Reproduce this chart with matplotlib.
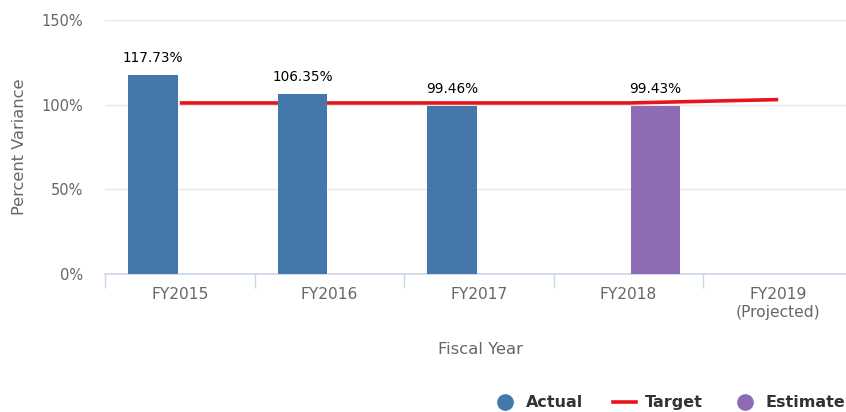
import numpy as np
import matplotlib
matplotlib.use("Agg")
import matplotlib.pyplot as plt
from matplotlib.lines import Line2D

# fiscal years and values (percent)
years = ["FY2015", "FY2016", "FY2017", "FY2018", "FY2019\n(Projected)"]
actual = [117.73, 106.35, 99.46, np.nan, np.nan]
estimate = [np.nan, np.nan, np.nan, 99.43, np.nan]
target = [101, 101, 101, 101, 103]

c_actual = "#4477aa"
c_est = "#8d6cb4"
c_target = "#e8141c"
c_axis = "#ccd6eb"

fig = plt.figure(figsize=(8.46, 4.12), dpi=100)
ax = fig.add_axes([105 / 846, 1 - 274 / 412, 748 / 846, 254 / 412])

x = np.arange(len(years))
w = 0.333
off = 0.18

# target line sits behind the columns
ax.plot(x, target, color=c_target, lw=2.6, zorder=2, solid_capstyle="butt")
ax.bar(x - off, actual, width=w, color=c_actual, zorder=3)
ax.bar(x + off, estimate, width=w, color=c_est, zorder=3)

# value labels over the columns
for xs, vals in ((x - off, actual), (x + off, estimate)):
    for xi, v in zip(xs, vals):
        if np.isnan(v):
            continue
        ax.annotate(f"{v:.2f}%", (xi, v), xytext=(0, 13), textcoords="offset pixels",
                    ha="center", va="baseline", fontsize=9.8, color="black", zorder=4)

ax.set_xlim(-0.5, 4.5)
ax.set_ylim(0, 150)
ax.set_yticks([0, 50, 100, 150])
ax.set_yticklabels(["0%", "50%", "100%", "150%"])
ax.yaxis.grid(True, color="#e6e6e6", lw=1)
ax.set_axisbelow(True)
ax.tick_params(axis="y", length=0, pad=16, labelsize=10.5, labelcolor="#666666")

ax.set_xticks(x)
ax.set_xticklabels(years)
ax.set_xticks(np.arange(-0.5, 5, 1), minor=True)
ax.tick_params(axis="x", which="major", length=0, pad=9.5, labelsize=11.2, labelcolor="#666666")
ax.tick_params(axis="x", which="minor", length=10, width=1, color=c_axis)

for s in ("top", "right", "left"):
    ax.spines[s].set_visible(False)
ax.spines["bottom"].set_color(c_axis)
ax.spines["bottom"].set_linewidth(1.2)

fig.text(20 / 846, 1 - 147 / 412, "Percent Variance", rotation=90, ha="center", va="center",
         fontsize=11.7, color="#666666")
fig.text(480 / 846, 1 - 350 / 412, "Fiscal Year", ha="center", va="center",
         fontsize=11.8, color="#666666")

handles = [
    Line2D([], [], ls="none", marker="o", ms=11, color=c_actual),
    Line2D([], [], color=c_target, lw=2.6),
    Line2D([], [], ls="none", marker="o", ms=11, color=c_est),
]
leg = fig.legend(handles, ["Actual", "Target", "Estimate"], ncol=3, frameon=False,
                 loc="lower right", bbox_to_anchor=(1.0 + 7 / 846, -0.015), borderpad=0,
                 handlelength=1.4, handletextpad=0.6, columnspacing=1.9,
                 prop={"weight": "bold", "size": 11.5})
for t in leg.get_texts():
    t.set_color("#333333")

fig.savefig("out.png", dpi=100)
